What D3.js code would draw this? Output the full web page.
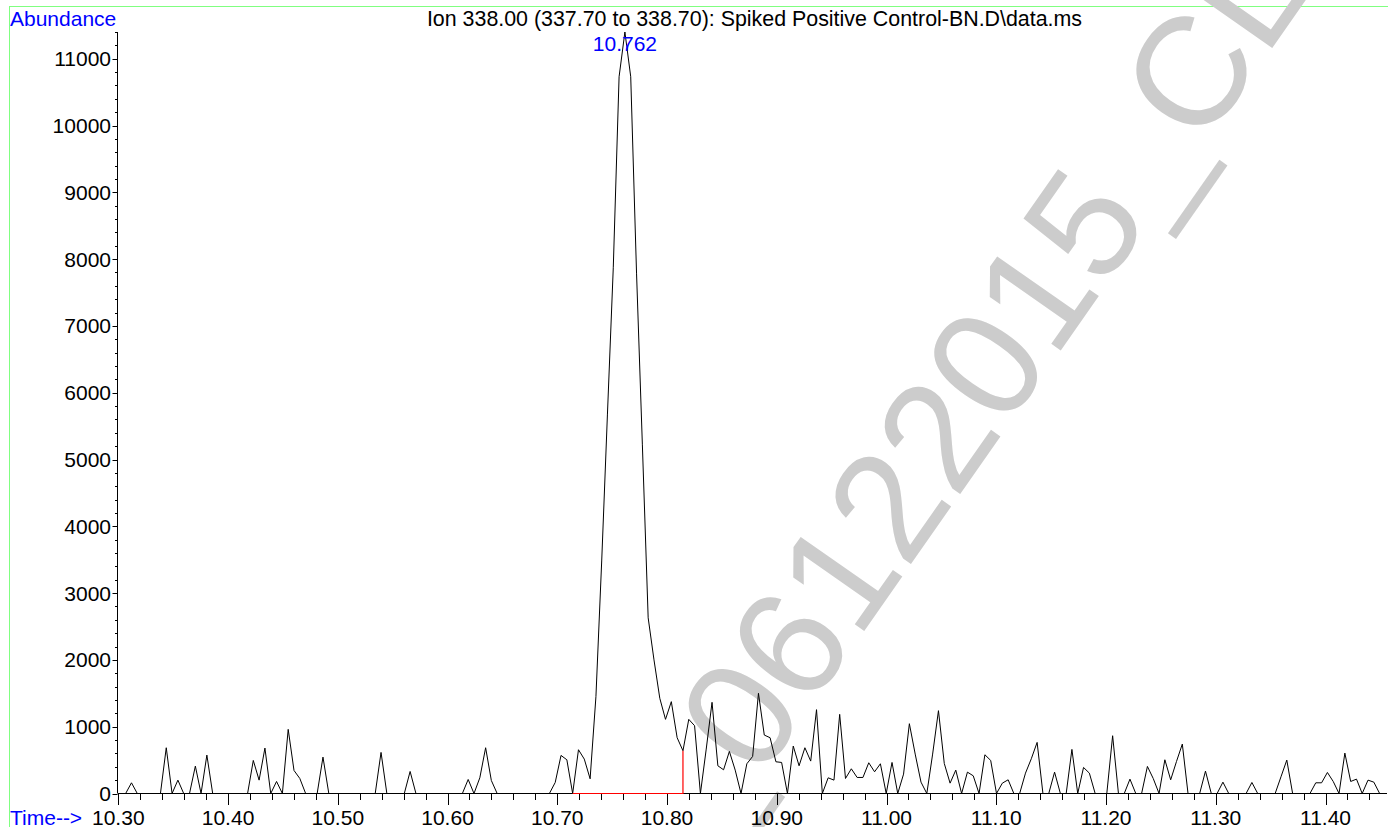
<!DOCTYPE html>
<html>
<head>
<meta charset="utf-8">
<script src="https://cdn.jsdelivr.net/npm/d3@7/dist/d3.min.js"></script>
<style>
  html, body { margin: 0; padding: 0; background: #ffffff; }
  svg { display: block; }
  text { font-family: "Liberation Sans", Arial, Helvetica, sans-serif; }
</style>
</head>
<body>
<svg id="chart" width="1388" height="827"></svg>
<script>
// Extracted ion chromatogram, m/z 338.00 (337.70 to 338.70)
const scanTimes = [
  10.3014, 10.3067, 10.3120, 10.3173, 10.3225, 10.3278, 10.3331, 10.3384, 10.3437, 10.3490,
  10.3543, 10.3596, 10.3649, 10.3702, 10.3754, 10.3807, 10.3860, 10.3913, 10.3966, 10.4019,
  10.4072, 10.4125, 10.4178, 10.4230, 10.4283, 10.4336, 10.4389, 10.4442, 10.4495, 10.4548,
  10.4601, 10.4654, 10.4707, 10.4759, 10.4812, 10.4865, 10.4918, 10.4971, 10.5024, 10.5077,
  10.5130, 10.5183, 10.5236, 10.5288, 10.5341, 10.5394, 10.5447, 10.5500, 10.5553, 10.5606,
  10.5659, 10.5712, 10.5765, 10.5817, 10.5870, 10.5923, 10.5976, 10.6029, 10.6082, 10.6135,
  10.6188, 10.6241, 10.6294, 10.6347, 10.6399, 10.6452, 10.6505, 10.6558, 10.6611, 10.6664,
  10.6717, 10.6770, 10.6823, 10.6876, 10.6928, 10.6981, 10.7034, 10.7087, 10.7140, 10.7193,
  10.7246, 10.7299, 10.7352, 10.7405, 10.7457, 10.7510, 10.7563, 10.7616, 10.7669, 10.7722,
  10.7775, 10.7828, 10.7881, 10.7934, 10.7986, 10.8039, 10.8092, 10.8145, 10.8198, 10.8251,
  10.8304, 10.8357, 10.8410, 10.8463, 10.8515, 10.8568, 10.8621, 10.8674, 10.8727, 10.8780,
  10.8833, 10.8886, 10.8939, 10.8992, 10.9044, 10.9097, 10.9150, 10.9203, 10.9256, 10.9309,
  10.9362, 10.9415, 10.9468, 10.9521, 10.9573, 10.9626, 10.9679, 10.9732, 10.9785, 10.9838,
  10.9891, 10.9944, 10.9997, 11.0050, 11.0102, 11.0155, 11.0208, 11.0261, 11.0314, 11.0367,
  11.0420, 11.0473, 11.0526, 11.0579, 11.0631, 11.0684, 11.0737, 11.0790, 11.0843, 11.0896,
  11.0949, 11.1002, 11.1055, 11.1108, 11.1160, 11.1213, 11.1266, 11.1319, 11.1372, 11.1425,
  11.1478, 11.1531, 11.1584, 11.1637, 11.1689, 11.1742, 11.1795, 11.1848, 11.1901, 11.1954,
  11.2007, 11.2060, 11.2113, 11.2166, 11.2218, 11.2271, 11.2324, 11.2377, 11.2430, 11.2483,
  11.2536, 11.2589, 11.2642, 11.2695, 11.2747, 11.2800, 11.2853, 11.2906, 11.2959, 11.3012,
  11.3065, 11.3118, 11.3171, 11.3224, 11.3276, 11.3329, 11.3382, 11.3435, 11.3488, 11.3541,
  11.3594, 11.3647, 11.3700, 11.3753, 11.3805, 11.3858, 11.3911, 11.3964, 11.4017, 11.4070,
  11.4123, 11.4176, 11.4229, 11.4282, 11.4334, 11.4387, 11.4440, 11.4493
];

const abundance = [
  0, 0, 160, 0, 0, 0, 0, 0, 685, 0,
  200, 0, 0, 410, 0, 575, 0, 0, 0, 0,
  0, 0, 0, 495, 200, 680, 0, 180, 0, 960,
  345, 225, 0, 0, 0, 545, 0, 0, 0, 0,
  0, 0, 0, 0, 0, 615, 0, 0, 0, 0,
  330, 0, 0, 0, 0, 0, 0, 0, 0, 0,
  210, 0, 235, 685, 195, 0, 0, 0, 0, 0,
  0, 0, 0, 0, 0, 165, 570, 505, 0, 655,
  515, 220, 1450, 3495, 5680, 7870, 10730, 11400, 10730, 7790,
  5230, 2630, 2000, 1425, 1110, 1375, 835, 640, 1110, 1015,
  0, 665, 1365, 415, 355, 630, 350, 0, 445, 555,
  1500, 875, 835, 475, 465, 0, 710, 415, 685, 485,
  1255, 0, 235, 200, 1185, 225, 370, 240, 240, 460,
  325, 445, 0, 465, 0, 290, 1045, 590, 170, 0,
  590, 1240, 450, 155, 350, 0, 320, 265, 0, 580,
  495, 0, 155, 205, 0, 0, 305, 520, 765, 0,
  0, 320, 0, 0, 660, 0, 390, 305, 0, 0,
  0, 865, 0, 0, 215, 0, 0, 405, 225, 0,
  505, 205, 480, 740, 0, 0, 0, 335, 0, 0,
  170, 0, 0, 0, 0, 165, 0, 0, 0, 0,
  250, 500, 0, 0, 0, 0, 160, 160, 315, 180,
  0, 605, 180, 215, 0, 200, 170, 0
];

const yTickValues = [0, 1000, 2000, 3000, 4000, 5000, 6000, 7000, 8000, 9000, 10000, 11000];
const xTickValues = [10.30, 10.40, 10.50, 10.60, 10.70, 10.80, 10.90, 11.00, 11.10, 11.20, 11.30, 11.40];

const timeRange = [10.30, 11.456];
const abundanceMax = 11400;

// Integrated peak: baseline start and end scans, and the labelled apex
const integrationWindow = [10.7140, 10.8145];
const apexTime = 10.7616;
const apexLabel = "10.762";

const titleText = "Ion 338.00 (337.70 to 338.70): Spiked Positive Control-BN.D\\data.ms";
const watermarkText = "_06122015_CL";

const W = 1388, H = 827;
const plot = { left: 118, right: 1387, top: 32, bottom: 793.5 };

const svg = d3.select("#chart");

const x = d3.scaleLinear().domain(timeRange).range([plot.left + 0.3, plot.right]);
const y = d3.scaleLinear().domain([0, abundanceMax]).range([plot.bottom, plot.top]);

// Frame around the page
svg.append("rect")
  .attr("x", 9.5).attr("y", 6.5)
  .attr("width", W + 20).attr("height", H + 20)
  .attr("fill", "none")
  .attr("stroke", "#80ff80")
  .attr("stroke-width", 1);

// Diagonal watermark
svg.append("text")
  .attr("transform", "translate(710,851) rotate(-55)")
  .attr("font-size", 154)
  .attr("fill", "#cccccc")
  .text(watermarkText);

// Y axis
const yMinor = d3.range(0, abundanceMax + 1, 200).filter(v => v % 1000 !== 0);
const yAxisG = svg.append("g").attr("transform", `translate(${plot.left - 0.5},0)`);
yAxisG.append("line")
  .attr("x1", 0).attr("x2", 0)
  .attr("y1", y(0)).attr("y2", y(abundanceMax))
  .attr("stroke", "#000").attr("stroke-width", 1);
yAxisG.selectAll("line.minor").data(yMinor).join("line")
  .attr("class", "minor")
  .attr("x1", -2.5).attr("x2", 0)
  .attr("y1", d => Math.round(y(d)) + 0.5).attr("y2", d => Math.round(y(d)) + 0.5)
  .attr("stroke", "#000");
yAxisG.selectAll("line.major").data(yTickValues).join("line")
  .attr("class", "major")
  .attr("x1", -5).attr("x2", 0)
  .attr("y1", d => Math.round(y(d)) + 0.5).attr("y2", d => Math.round(y(d)) + 0.5)
  .attr("stroke", "#000");
yAxisG.selectAll("text").data(yTickValues).join("text")
  .attr("x", -6.5)
  .attr("y", d => y(d))
  .attr("dy", "0.36em")
  .attr("text-anchor", "end")
  .attr("font-size", 21)
  .attr("fill", "#000")
  .text(d => d3.format("d")(d));

// X axis
const xMinor = d3.range(10.32, timeRange[1], 0.02).filter(v => Math.abs(v * 10 - Math.round(v * 10)) > 1e-6);
const xAxisG = svg.append("g").attr("transform", `translate(0,${plot.bottom})`);
xAxisG.append("line")
  .attr("x1", plot.left).attr("x2", plot.right)
  .attr("y1", 0).attr("y2", 0)
  .attr("stroke", "#000");
xAxisG.selectAll("line.minor").data(xMinor).join("line")
  .attr("class", "minor")
  .attr("x1", d => Math.round(x(d)) + 0.5).attr("x2", d => Math.round(x(d)) + 0.5)
  .attr("y1", 0).attr("y2", 6.5)
  .attr("stroke", "#000");
xAxisG.selectAll("line.major").data(xTickValues).join("line")
  .attr("class", "major")
  .attr("x1", d => Math.round(x(d)) + 0.5).attr("x2", d => Math.round(x(d)) + 0.5)
  .attr("y1", 0).attr("y2", 11.5)
  .attr("stroke", "#000");
xAxisG.selectAll("text").data(xTickValues).join("text")
  .attr("x", d => x(d))
  .attr("y", 31.5)
  .attr("text-anchor", "middle")
  .attr("font-size", 21)
  .attr("fill", "#000")
  .text(d => d3.format(".2f")(d));

// Axis captions and title
svg.append("text")
  .attr("x", 10).attr("y", 26)
  .attr("font-size", 21).attr("fill", "#0000ff")
  .text("Abundance");
svg.append("text")
  .attr("x", 10).attr("y", 825)
  .attr("font-size", 21).attr("fill", "#0000ff")
  .text("Time-->");
svg.append("text")
  .attr("x", 754.5).attr("y", 26)
  .attr("text-anchor", "middle")
  .attr("font-size", 21.4).attr("fill", "#000")
  .text(titleText);

// Chromatogram trace
const series = scanTimes.map((t, i) => ({ t, v: abundance[i] }));
svg.append("defs").append("clipPath").attr("id", "plotClip")
  .append("rect")
  .attr("x", plot.left).attr("y", 0)
  .attr("width", plot.right - plot.left).attr("height", plot.bottom + 1);

svg.append("path")
  .datum(series)
  .attr("clip-path", "url(#plotClip)")
  .attr("fill", "none")
  .attr("stroke", "#000")
  .attr("stroke-width", 1)
  .attr("d", d3.line().x(d => x(d.t)).y(d => y(d.v)));

// Integration baseline (red), drawn over the axis line
const endIdx = d3.minIndex(scanTimes, t => Math.abs(t - integrationWindow[1]));
const baseline = [
  { t: integrationWindow[0], v: 0 },
  { t: integrationWindow[1], v: 0 },
  { t: integrationWindow[1], v: abundance[endIdx] }
];
svg.append("path")
  .datum(baseline)
  .attr("fill", "none")
  .attr("stroke", "#ff0000")
  .attr("stroke-width", 1.2)
  .attr("d", d3.line().x(d => x(d.t)).y(d => y(d.v)));

// Apex retention time label
svg.append("text")
  .attr("x", x(apexTime)).attr("y", 51)
  .attr("text-anchor", "middle")
  .attr("font-size", 21).attr("fill", "#0000ff")
  .text(apexLabel);
</script>
</body>
</html>
